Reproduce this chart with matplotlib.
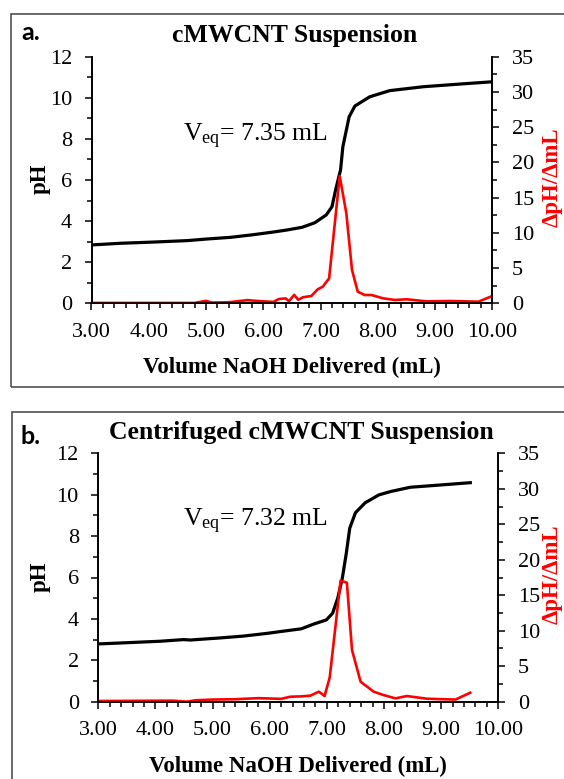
import matplotlib
matplotlib.use("Agg")
import matplotlib.pyplot as plt
from matplotlib.patches import Rectangle
from matplotlib.ticker import MultipleLocator, FormatStrFormatter

plt.rcParams['font.family'] = 'Liberation Serif'
plt.rcParams['mathtext.fontset'] = 'custom'
plt.rcParams['mathtext.rm'] = 'Liberation Serif'
plt.rcParams['mathtext.it'] = 'Liberation Serif:italic'

# --- data ---
# panel a: cMWCNT suspension
vol_a = [3.0, 3.5, 4.08, 4.67, 5.02, 5.43, 5.83, 6.18, 6.42, 6.68, 6.90, 7.10,
         7.20, 7.27, 7.35, 7.39, 7.50, 7.60, 7.86, 8.21, 8.80, 9.44, 10.0]
ph_a = [2.84, 2.92, 2.98, 3.05, 3.13, 3.21, 3.34, 3.47, 3.57, 3.70, 3.92, 4.30,
        4.70, 5.60, 6.49, 7.62, 9.08, 9.60, 10.05, 10.35, 10.54, 10.67, 10.78]
dvol_a = [3.0, 4.8, 5.0, 5.1, 5.4, 5.72, 5.95, 6.18, 6.27, 6.39, 6.45, 6.54, 6.61,
          6.69, 6.84, 6.95, 7.04, 7.15, 7.335, 7.45, 7.55, 7.65, 7.77, 7.89, 8.09,
          8.30, 8.50, 8.85, 9.26, 9.76, 10.0]
dph_a = [0.05, 0.05, 0.35, 0.1, 0.15, 0.45, 0.3, 0.2, 0.6, 0.7, 0.3, 1.2, 0.5,
         0.85, 1.04, 1.98, 2.36, 3.55, 18.07, 12.8, 4.73, 1.65, 1.18, 1.18, 0.71,
         0.47, 0.57, 0.28, 0.33, 0.23, 1.04]

# panel b: centrifuged suspension
vol_b = [3.0, 3.5, 4.08, 4.49, 4.61, 5.13, 5.54, 5.95, 6.30, 6.55, 6.77, 6.99,
         7.10, 7.19, 7.27, 7.34, 7.40, 7.50, 7.67, 7.91, 8.11, 8.46, 8.99, 9.51]
ph_b = [2.79, 2.85, 2.92, 3.00, 2.98, 3.08, 3.17, 3.30, 3.43, 3.52, 3.75, 3.95,
        4.27, 5.00, 5.96, 7.17, 8.38, 9.13, 9.61, 9.99, 10.15, 10.36, 10.47, 10.58]
dvol_b = [3.0, 4.3, 4.55, 4.7, 5.0, 5.4, 5.8, 6.2, 6.36, 6.54, 6.71, 6.86, 6.96,
          7.05, 7.24, 7.35, 7.44, 7.59, 7.82, 7.99, 8.20, 8.40, 8.75, 9.25, 9.51]
dph_b = [0.1, 0.15, 0.0, 0.2, 0.3, 0.35, 0.5, 0.4, 0.7, 0.75, 0.85, 1.41, 0.8,
         3.43, 17.05, 16.77, 7.28, 2.82, 1.41, 0.94, 0.47, 0.80, 0.42, 0.30, 1.27]

titles = ['cMWCNT Suspension', 'Centrifuged cMWCNT Suspension']
veq_labels = [r'V$_{\mathrm{eq}}$= 7.35 mL', r'V$_{\mathrm{eq}}$= 7.32 mL']
panel_tags = ['a.', 'b.']

W, H = 564, 779
fig = plt.figure(figsize=(W / 100, H / 100), dpi=100)


def fx(x):
    return x / W


def fy(y):
    return 1 - y / H


def make_panel(box, vol, ph, dvol, dph):
    x0, y0, x1, y1 = box  # pixel coords: left, top, right, bottom
    ax = fig.add_axes([fx(x0), fy(y1), (x1 - x0) / W, (y1 - y0) / H])
    ax2 = ax.twinx()
    ax.plot(vol, ph, color='black', lw=2.3, solid_joinstyle='round')
    ax2.plot(dvol, dph, color='red', lw=1.9, solid_joinstyle='round')
    ax.set_xlim(3, 10)
    ax.set_ylim(0, 12)
    ax2.set_ylim(0, 35)
    ax.xaxis.set_major_locator(MultipleLocator(1))
    ax.xaxis.set_minor_locator(MultipleLocator(0.2))
    ax.xaxis.set_major_formatter(FormatStrFormatter('%.2f'))
    ax.yaxis.set_major_locator(MultipleLocator(2))
    ax.yaxis.set_minor_locator(MultipleLocator(1))
    ax2.yaxis.set_major_locator(MultipleLocator(5))
    ax2.yaxis.set_minor_locator(MultipleLocator(2.5))
    for a in (ax, ax2):
        a.spines['top'].set_visible(False)
        for s in a.spines.values():
            s.set_linewidth(1.2)
        a.tick_params(which='major', direction='out', length=5, width=1.1,
                      labelsize=16, pad=9)
        a.tick_params(which='minor', direction='out', length=3.5, width=1.1)
        a.patch.set_visible(False)
    return ax, ax2


boxes = [(91.5, 56.7, 492.3, 303.3), (98.3, 453.3, 498.3, 701.7)]
data = [(vol_a, ph_a, dvol_a, dph_a), (vol_b, ph_b, dvol_b, dph_b)]

# panel frames
fig.add_artist(Rectangle((fx(11), fy(387)), 1.1, (387 - 14) / H, transform=fig.transFigure,
                         fill=False, edgecolor='#505050', lw=1.2))
fig.add_artist(Rectangle((fx(11.5), -0.1), 1.1, fy(411.5) + 0.1, transform=fig.transFigure,
                         fill=False, edgecolor='#505050', lw=1.2))

title_base = [42, 439]
xlab_base = [373, 772]
tag_y = [32, 436]
veq_base = [141.7, 526.7]
for i in range(2):
    box = boxes[i]
    ax, ax2 = make_panel(box, *data[i])
    cx = (box[0] + box[2]) / 2
    cy = (box[1] + box[3]) / 2
    fig.text(fx(cx + 3), fy(title_base[i]), titles[i], ha='center', va='baseline',
             fontsize=18.5, fontweight='bold')
    fig.text(fx(cx), fy(xlab_base[i]), 'Volume NaOH Delivered (mL)', ha='center',
             va='baseline', fontsize=16.5, fontweight='bold')
    fig.text(fx(40), fy(cy - 1), 'pH', rotation=90, ha='center', va='center',
             fontsize=16.5, fontweight='bold')
    fig.text(fx(552), fy(cy - 3), 'ΔpH/ΔmL', rotation=90, ha='center', va='center',
             fontsize=16.5, fontweight='bold', color='red')
    fig.text(fx(183), fy(veq_base[i]), veq_labels[i], ha='left', va='baseline',
             fontsize=18.5)
    fig.text(fx(21), fy(tag_y[i]), panel_tags[i], ha='left', va='center',
             fontsize=18, fontweight='bold', family='Lato')

fig.savefig('out.png', dpi=100)
